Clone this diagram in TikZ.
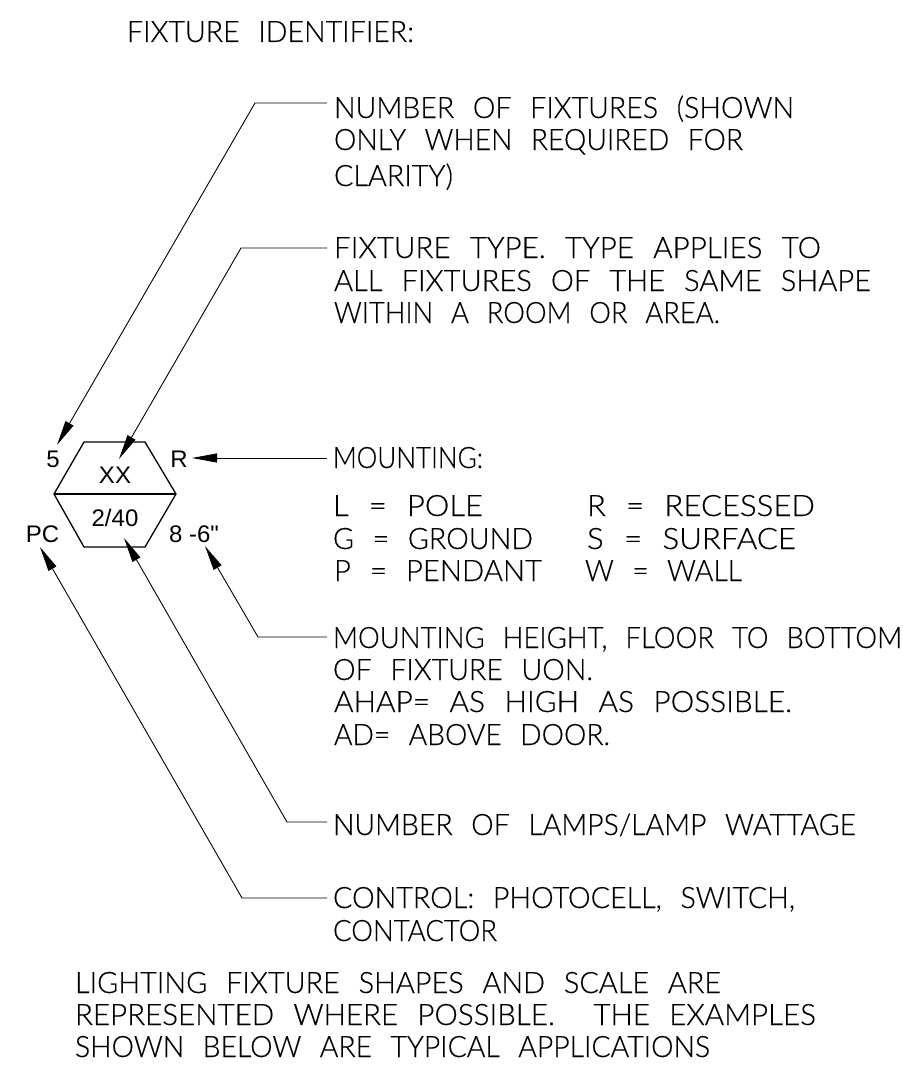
\documentclass[tikz,border=0pt]{standalone}
\usepackage{fontspec}
\usepackage{graphicx}
\usetikzlibrary{arrows.meta}
\newfontfamily\hexfont{Liberation Sans}
\newfontfamily\cadfont[UprightFont=* Light,WordSpace=2.4,FakeBold=0.35]{Lato}
\newsavebox\tlbox
\newdimen\tlw
\makeatletter
\let\tlstrip\strip@pt
\makeatother
% name, x start, x end, baseline, text
\newcommand\tl[5]{%
  \node[cadtext] (#1) at (#2,#4) {\cadfont\fontsize{29.5}{29.5}\selectfont
    \sbox\tlbox{#5}\tlw=\wd\tlbox
    \pgfmathsetmacro\tlsx{(#3-#2)/\tlstrip\tlw}%
    \scalebox{\tlsx}[1]{\usebox\tlbox}};%
}
\tikzset{
  cadtext/.style={anchor=base west,inner sep=0pt,outer sep=0pt,text=black},
  hexlab/.style={anchor=base,inner sep=0pt,outer sep=0pt,font=\hexfont\fontsize{24}{24}\selectfont},
  hexline/.style={draw=black,line width=1.3pt,line join=round},
  leader/.style={draw=black,line width=0.9pt,-{Triangle[length=25pt,width=9pt]}},
}
\begin{document}
\begin{tikzpicture}[x=1pt,y=-1pt]
\useasboundingbox (0,0) rectangle (902,1065);
\fill[white] (0,0) rectangle (902,1065);
% text
\tl{title}{127}{414}{42}{FIXTURE IDENTIFIER:}
\tl{a1}{334}{794}{118}{NUMBER OF FIXTURES (SHOWN}
\tl{a2}{334}{743}{150}{ONLY WHEN REQUIRED FOR}
\tl{a3}{334}{453}{186}{CLARITY)}
\tl{b1}{334}{821}{258}{FIXTURE TYPE. TYPE APPLIES TO}
\tl{b2}{334}{871}{291}{ALL FIXTURES OF THE SAME SHAPE}
\tl{b3}{334}{720}{323}{WITHIN A ROOM OR AREA.}
\tl{c1}{333}{483}{468}{MOUNTING:}
\tl{c2}{333}{483}{516}{L = POLE}
\tl{c3}{333}{533}{549}{G = GROUND}
\tl{c4}{334}{542}{581}{P = PENDANT}
\tl{c5}{587}{815}{516}{R = RECESSED}
\tl{c6}{587}{796}{549}{S = SURFACE}
\tl{c7}{585}{742}{581}{W = WALL}
\tl{d1}{333}{902}{648}{MOUNTING HEIGHT, FLOOR TO BOTTOM}
\tl{d2}{333}{593}{680}{OF FIXTURE UON.}
\tl{d3}{334}{792}{712}{AHAP= AS HIGH AS POSSIBLE.}
\tl{d4}{334}{610}{745}{AD= ABOVE DOOR.}
\tl{e1}{333}{856}{835}{NUMBER OF LAMPS/LAMP WATTAGE}
\tl{f1}{333}{795}{908}{CONTROL: PHOTOCELL, SWITCH,}
\tl{f2}{333}{497}{941}{CONTACTOR}
\tl{g1}{75}{721}{993}{LIGHTING FIXTURE SHAPES AND SCALE ARE}
\tl{g2}{75}{816}{1025}{REPRESENTED WHERE POSSIBLE.\ \ THE EXAMPLES}
\tl{g3}{75}{710}{1057}{SHOWN BELOW ARE TYPICAL APPLICATIONS}
% hexagon
\coordinate (hw) at (54,494);
\coordinate (he) at (176,494);
\draw[hexline] (84,442) -- (145,442) -- (he) -- (145,547) -- (84,547) -- (hw) -- cycle;
\draw[hexline] (hw) -- (he);
\node[hexlab] (five) at (53,467) {5};
\node[hexlab] (xx) at (115,483) {XX};
\node[hexlab] (mnt) at (179,467) {R};
\node[hexlab] (lamps) at (115,526) {2/40};
\node[hexlab] (pc) at (42.5,542) {PC};
\node[hexlab] (hgt) at (194,542) {8 -6"};
% connector points
\coordinate (s1) at (327,103);\coordinate (k1) at (255,103);\coordinate (t1) at (57,445);
\coordinate (s2) at (327,248);\coordinate (k2) at (241,248);\coordinate (t2) at (119,459);
\coordinate (s3) at (327,458);\coordinate (t3) at (192,458);
\coordinate (s4) at (327,637);\coordinate (k4) at (258,637);\coordinate (t4) at (205,546);
\coordinate (s5) at (327,822);\coordinate (k5) at (287,822);\coordinate (t5) at (124,538);
\coordinate (s6) at (327,898);\coordinate (k6) at (242,898);\coordinate (t6) at (40,547);
\draw[leader] (s1) -- (k1) -- (t1);
\draw[leader] (s2) -- (k2) -- (t2);
\draw[leader] (s3) -- (t3);
\draw[leader] (s4) -- (k4) -- (t4);
\draw[leader] (s5) -- (k5) -- (t5);
\draw[leader] (s6) -- (k6) -- (t6);
\end{tikzpicture}
\end{document}
